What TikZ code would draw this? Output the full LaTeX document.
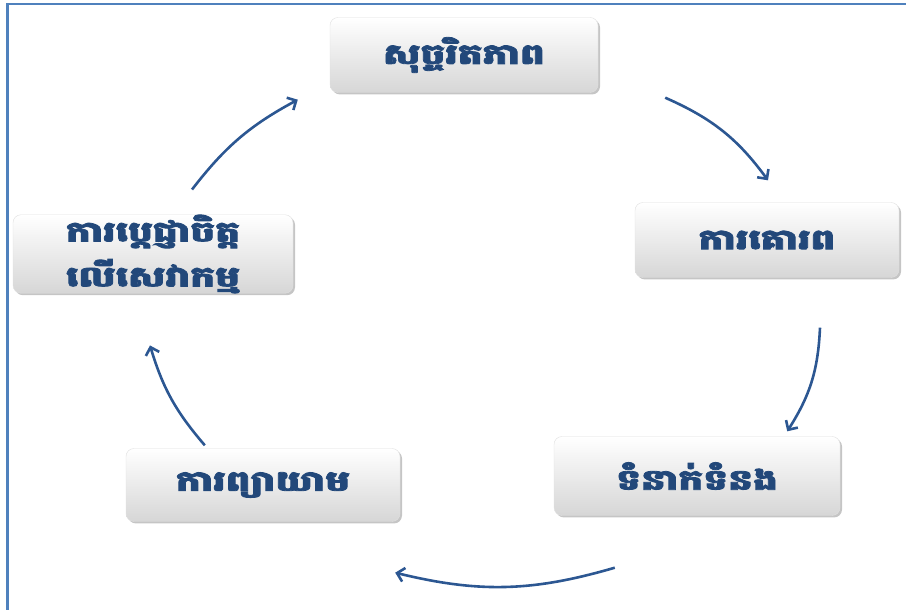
\documentclass[tikz,border=0pt]{standalone}
\usepackage{fontspec}
\newfontfamily\khmerfont[Script=Khmer, FakeBold=2.8, FakeStretch=1.4]{Battambang}
\usetikzlibrary{arrows.meta,shadows}
\definecolor{framblue}{HTML}{4F81BD}
\definecolor{txtblue}{HTML}{22487A}
\definecolor{arrblue}{HTML}{2C5792}

\begin{document}
\begin{tikzpicture}[x=1pt,y=1pt]
\tikzstyle{value} = [rectangle, rounded corners=8pt, draw=black!12, thin,
top color=white, bottom color=black!16, drop shadow={shadow xshift=2pt,
shadow yshift=-2pt, fill=black!45}, text=txtblue, align=center,
font=\khmerfont\bfseries\fontsize{28}{45}\selectfont, inner sep=0pt]
\tikzstyle{cycle} = [draw=arrblue, line width=2.6pt, -{Straight Barb[length=7pt,width=14pt]}]
\useasboundingbox (0,0) rectangle (906,610);
% frame
\draw[framblue, line width=2.5pt] (7.3,0) -- (7.3,606.2) -- (906,606.2);
% the five values
\node [value, minimum width=268, minimum height=75] (integrity) at (464,555) {សុច្ចរិតភាព};
\node [value, minimum width=264, minimum height=75] (respect) at (767,370) {ការគោរព};
\node [value, minimum width=286, minimum height=79] (relation) at (697,134) {ទំនាក់ទំនង};
\node [value, minimum width=274, minimum height=73] (effort) at (263,125) {ការព្យាយាម};
\node [value, minimum width=280, minimum height=78] (commit) at (153,356) {ការប្តេជ្ញាចិត្ត\\លើសេវាកម្ម};
% arrows round the cycle
\path [cycle] ([shift={(67,-5)}]integrity.south east) to [bend left=15] ([shift={(1,22)}]respect.north);
\path [cycle] ([shift={(53,-50)}]respect.south) to [bend left=15] ([shift={(-53,5)}]relation.north east);
\path [cycle] ([shift={(61,-52)}]relation.south west) to [bend left=15] ([shift={(-5,-51)}]effort.south east);
\path [cycle] ([shift={(79,3)}]effort.north west) to [bend left=12] ([shift={(-3,-52)}]commit.south);
\path [cycle] ([shift={(39,25)}]commit.north) to [bend left=12] ([shift={(-32,-7)}]integrity.south west);
\end{tikzpicture}
\end{document}
